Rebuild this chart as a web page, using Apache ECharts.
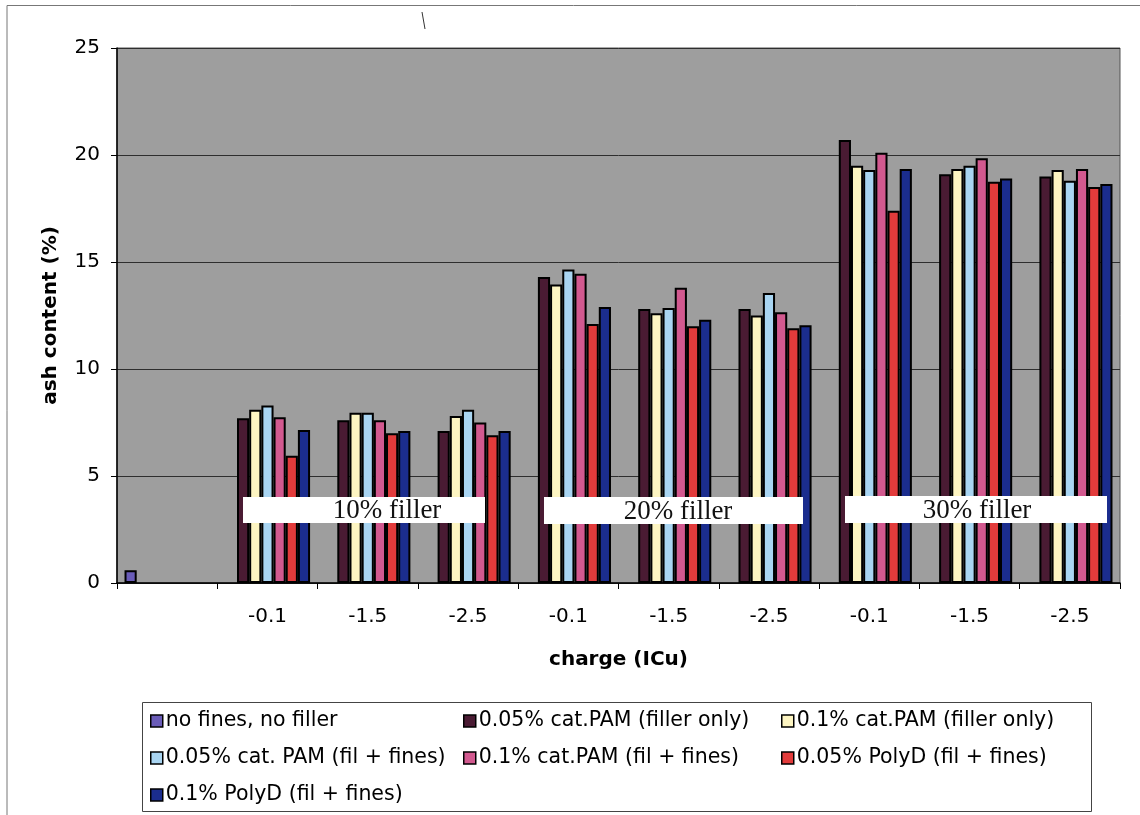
<!DOCTYPE html>
<html>
<head>
<meta charset="utf-8">
<script src="https://cdn.jsdelivr.net/npm/echarts@6/dist/echarts.min.js"></script>
<style>
  html, body { margin: 0; padding: 0; background: #ffffff; }
  #chart { width: 1140px; height: 815px; }
</style>
</head>
<body>
<div id="chart"></div>
<script>
// Charge levels for each filler level; the first slot holds the blank reference sample
const categories = ['', '-0.1', '-1.5', '-2.5', '-0.1', '-1.5', '-2.5', '-0.1', '-1.5', '-2.5'];

// Ash content (%) per treatment
const noFinesNoFiller = [0.6, null, null, null, null, null, null, null, null, null];
const pam005FillerOnly = [null, 7.7, 7.6, 7.1, 14.3, 12.8, 12.8, 20.7, 19.1, 19.0];
const pam01FillerOnly = [null, 8.1, 7.95, 7.8, 13.95, 12.6, 12.5, 19.5, 19.35, 19.3];
const pam005FilFines = [null, 8.3, 7.95, 8.1, 14.65, 12.85, 13.55, 19.3, 19.5, 18.8];
const pam01FilFines = [null, 7.75, 7.6, 7.5, 14.45, 13.8, 12.65, 20.1, 19.85, 19.35];
const polyD005FilFines = [null, 5.95, 7.0, 6.9, 12.1, 12.0, 11.9, 17.4, 18.75, 18.5];
const polyD01FilFines = [null, 7.15, 7.1, 7.1, 12.9, 12.3, 12.05, 19.35, 18.9, 18.65];

const seriesNames = [
  'no fines, no filler',
  '0.05% cat.PAM (filler only)',
  '0.1% cat.PAM (filler only)',
  '0.05% cat. PAM (fil + fines)',
  '0.1% cat.PAM (fil + fines)',
  '0.05% PolyD (fil + fines)',
  '0.1% PolyD (fil + fines)'
];
const seriesValues = [noFinesNoFiller, pam005FillerOnly, pam01FillerOnly, pam005FilFines,
  pam01FilFines, polyD005FilFines, polyD01FilFines];
const seriesColors = ['#6a5cb8', '#4a1b33', '#fdf5c2', '#a9d5f2', '#d2598f', '#e23b3b', '#1b2d8e'];

const groupLabels = ['10% filler', '20% filler', '30% filler'];

const yTicks = { min: 0, max: 25, interval: 5 };

const FONT = '"DejaVu Sans", "Liberation Sans", Arial, sans-serif';
const SERIF = '"Liberation Serif", "Times New Roman", serif';

const chart = echarts.init(document.getElementById('chart'), null, { renderer: 'canvas' });

const series = seriesNames.map((name, i) => ({
  name: name,
  type: 'bar',
  data: seriesValues[i],
  barGap: '0%',
  barCategoryGap: '15%',
  itemStyle: { color: seriesColors[i], borderColor: '#000', borderWidth: 2 }
}));

function legendColumn(left, names) {
  return {
    orient: 'vertical',
    left: left,
    top: 709,
    padding: 0,
    itemGap: 13,
    itemWidth: 12,
    itemHeight: 12,
    icon: 'rect',
    selectedMode: false,
    itemStyle: { borderColor: '#000', borderWidth: 1.5 },
    textStyle: { fontFamily: FONT, fontSize: 20.5, color: '#000', lineHeight: 24, padding: [0, 0, 0, -2] },
    data: names
  };
}

// Annotation boxes labelling each filler level
const boxes = [
  { x: 243, y: 497, w: 242, h: 26, tx: 387 },
  { x: 544, y: 497, w: 259, h: 27, tx: 678 },
  { x: 845, y: 496, w: 262, h: 27, tx: 977 }
];
const annotationGraphics = [];
boxes.forEach((b, i) => {
  annotationGraphics.push({
    type: 'rect', z: 100,
    shape: { x: b.x, y: b.y, width: b.w, height: b.h },
    style: { fill: '#ffffff', stroke: null }
  });
  annotationGraphics.push({
    type: 'text', z: 101,
    x: b.tx, y: b.y + b.h / 2 + 1,
    style: { text: groupLabels[i], font: '27px ' + SERIF, fill: '#111', align: 'center', verticalAlign: 'middle' }
  });
});

chart.setOption({
  animation: false,
  backgroundColor: '#ffffff',
  grid: {
    left: 117, top: 48, right: 20, bottom: 232,
    show: true, backgroundColor: '#9e9e9e', borderColor: '#555', borderWidth: 1
  },
  xAxis: {
    type: 'category',
    data: categories,
    name: 'charge (ICu)',
    nameLocation: 'middle',
    nameGap: 67,
    nameTextStyle: { fontFamily: FONT, fontSize: 20, fontWeight: 'bold', color: '#000' },
    axisLine: { lineStyle: { color: '#000', width: 1.5 } },
    axisTick: { show: true, alignWithLabel: false, length: 6, lineStyle: { color: '#000' } },
    axisLabel: { fontFamily: FONT, fontSize: 20, color: '#000', margin: 24 },
    splitLine: { show: false }
  },
  yAxis: {
    type: 'value',
    min: yTicks.min, max: yTicks.max, interval: yTicks.interval,
    name: 'ash content (%)',
    nameLocation: 'middle',
    nameGap: 56,
    nameRotate: 90,
    nameTextStyle: { fontFamily: FONT, fontSize: 20, fontWeight: 'bold', color: '#000' },
    axisLine: { show: true, lineStyle: { color: '#000', width: 1.5 } },
    axisTick: { show: true, length: 6, lineStyle: { color: '#000' } },
    axisLabel: { fontFamily: FONT, fontSize: 20, color: '#000', margin: 17 },
    splitLine: { show: true, lineStyle: { color: '#2e2e2e', width: 1 } }
  },
  legend: [
    legendColumn(150, [seriesNames[0], seriesNames[3], seriesNames[6]]),
    legendColumn(463, [seriesNames[1], seriesNames[4]]),
    legendColumn(781, [seriesNames[2], seriesNames[5]])
  ],
  graphic: [
    // outer chart frame
    { type: 'polyline', silent: true, shape: { points: [[7, 815], [7, 5.5], [1140, 5.5]] },
      style: { stroke: '#777', lineWidth: 1, fill: null } },
    // legend frame
    { type: 'rect', silent: true, z: -1, shape: { x: 142.5, y: 702.5, width: 949, height: 109 },
      style: { fill: '#ffffff', stroke: '#444', lineWidth: 1 } },
    // small pen stroke at the top
    { type: 'line', silent: true, shape: { x1: 422, y1: 12, x2: 425, y2: 29 },
      style: { stroke: '#333', lineWidth: 1 } }
  ].concat(annotationGraphics),
  series: series
});
</script>
</body>
</html>
